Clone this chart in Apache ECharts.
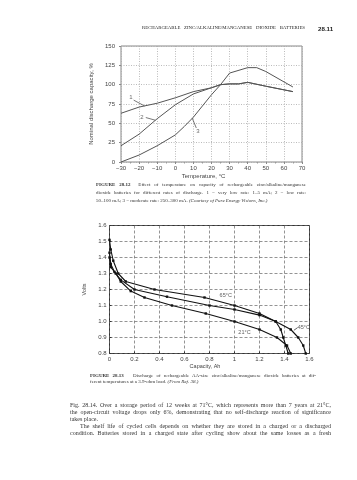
<!DOCTYPE html>
<html><head><meta charset="utf-8">
<script src="https://cdn.jsdelivr.net/npm/echarts@6/dist/echarts.min.js"></script>
<style>
html,body{margin:0;padding:0;background:#fff;width:357px;height:480px;overflow:hidden;}
#chart{position:absolute;left:0;top:0;width:357px;height:480px;}
.t{position:absolute;font-family:"Liberation Serif","DejaVu Serif",serif;color:#333;}
.j{text-align:justify;text-align-last:justify;}
.b{font-weight:bold;}
</style></head><body>
<div id="chart"></div>
<div class="t j" style="left:142px;top:25px;width:163px;font-size:4.8px;line-height:6px;color:#222;">RECHARGEABLE ZINC/ALKALINE/MANGANESE DIOXIDE BATTERIES</div>
<div class="t b" style="left:318px;top:24.5px;font-size:6.2px;line-height:7px;font-family:'Liberation Sans',sans-serif;color:#222;">28.11</div>

<div class="t j" style="left:96px;top:182px;width:210px;font-size:5px;line-height:6px;"><b>FIGURE 28.12</b>&nbsp; Effect of temperature on capacity of rechargeable zinc/alkaline/manganese</div>
<div class="t j" style="left:96px;top:190px;width:210px;font-size:5px;line-height:6px;">dioxide batteries for different rates of discharge. 1 = very low rate: 1–5 mA; 2 = low rate:</div>
<div class="t" style="left:96px;top:198px;width:210px;font-size:5px;line-height:6px;">50–100 mA; 3 = moderate rate: 250–300 mA. <i>(Courtesy of Pure Energy Visions, Inc.)</i></div>

<div class="t j" style="left:90px;top:373px;width:226px;font-size:5px;line-height:6px;"><b>FIGURE 28.13</b>&nbsp;&nbsp; Discharge of rechargeable AA-size zinc/alkaline/manganese dioxide batteries at dif-</div>
<div class="t" style="left:90px;top:379px;width:226px;font-size:5px;line-height:6px;">ferent temperatures at a 3.9-ohm load. <i>(From Ref. 38.)</i></div>

<div class="t j" style="left:70px;top:401.5px;width:261px;font-size:6px;line-height:7px;">Fig. 28.14. Over a storage period of 12 weeks at 71°C, which represents more than 7 years at 21°C,</div>
<div class="t j" style="left:70px;top:408.5px;width:261px;font-size:6px;line-height:7px;">the open-circuit voltage drops only 6%, demonstrating that no self-discharge reaction of significance</div>
<div class="t" style="left:70px;top:415.5px;width:261px;font-size:6px;line-height:7px;">takes place.</div>
<div class="t j" style="left:80px;top:422.5px;width:251px;font-size:6px;line-height:7px;">The shelf life of cycled cells depends on whether they are stored in a charged or a discharged</div>
<div class="t j" style="left:70px;top:429.5px;width:261px;font-size:6px;line-height:7px;">condition. Batteries stored in a charged state after cycling show about the same losses as a fresh</div>
<script>
// ---- Figure 28.12: capacity vs temperature ----
const rate1Temp = [-30, -20, -10, 0, 10, 20, 25, 30, 35, 40, 50, 65];
const rate1Cap  = [63, 71, 76, 83, 91, 96, 100, 101, 101, 103, 98, 91];
const rate2Temp = [-30, -20, -10, 0, 10, 20, 25, 30, 35, 40, 50, 65];
const rate2Cap  = [21, 36, 56, 74, 88, 96, 100, 101, 101, 103, 98, 91];
const rate3Temp = [-30, -20, -10, 0, 5, 10, 20, 25, 30, 40, 45, 50, 65];
const rate3Cap  = [0, 9, 21, 35, 46, 58, 87, 100, 115, 122, 122, 117, 97];
const rateLabels = ['1', '2', '3'];
const rateLabelAt = [[-24.5, 83], [-18.5, 58], [12.5, 40]];
const rateLeaders = [
  [[-23, 80], [-17, 72.5]],
  [[-16.3, 57.5], [-11, 54]],
  [[11.6, 44], [9.3, 57]]
];

// ---- Figure 28.13: discharge curves ----
const t65Cap  = [0, 0.01, 0.03, 0.07, 0.13, 0.36, 0.76, 1.0, 1.2, 1.33, 1.37, 1.39, 1.41, 1.43];
const t65Volt = [1.51, 1.45, 1.38, 1.30, 1.25, 1.20, 1.15, 1.10, 1.05, 1.00, 0.95, 0.90, 0.85, 0.80];
const t45Cap  = [0, 0.01, 0.04, 0.09, 0.2, 0.46, 0.8, 1.0, 1.2, 1.33, 1.45, 1.51, 1.55, 1.57];
const t45Volt = [1.43, 1.36, 1.31, 1.26, 1.20, 1.155, 1.10, 1.075, 1.04, 1.00, 0.95, 0.90, 0.85, 0.80];
const t21Cap  = [0, 0.01, 0.05, 0.09, 0.17, 0.28, 0.5, 0.77, 1.0, 1.2, 1.34, 1.42, 1.45];
const t21Volt = [1.40, 1.34, 1.30, 1.25, 1.19, 1.15, 1.10, 1.05, 1.00, 0.95, 0.90, 0.85, 0.80];
const tempLabels = ['65°C', '45°C', '21°C'];
const tempLabelAt = [[0.93, 1.16], [1.555, 0.96], [1.08, 0.93]];
const tempLeader = [[1.505, 0.962], [1.475, 0.945]];

const zip = (a, b) => a.map((v, i) => [v, b[i]]);
const minus = v => String(v).replace('-', '\u2212');

const sans = '"Liberation Sans", Arial, sans-serif';
const tickFont = {fontFamily: sans, fontSize: 6, color: '#444'};

const chart = echarts.init(document.getElementById('chart'), null, {renderer: 'canvas'});

const line1 = (data) => ({
  type: 'line', xAxisIndex: 0, yAxisIndex: 0, data, showSymbol: false, symbol: 'none',
  lineStyle: {color: '#555', width: 1}, silent: true, animation: false, z: 3
});
const line2 = (data) => ({
  type: 'line', xAxisIndex: 1, yAxisIndex: 1, data, symbol: 'rect', symbolSize: 2.4,
  itemStyle: {color: '#111'}, lineStyle: {color: '#111', width: 1.1}, silent: true, animation: false, z: 3
});

const series = [
  line1(zip(rate1Temp, rate1Cap)),
  line1(zip(rate2Temp, rate2Cap)),
  line1(zip(rate3Temp, rate3Cap)),
  ...rateLeaders.map(seg => ({
    type: 'line', xAxisIndex: 0, yAxisIndex: 0, data: seg, symbol: 'none',
    lineStyle: {color: '#555', width: 0.8}, animation: false, silent: true
  })),
  {
    type: 'scatter', xAxisIndex: 0, yAxisIndex: 0, symbolSize: 0, animation: false, silent: true,
    data: rateLabelAt.map((p, i) => ({value: p, label: {show: true, formatter: rateLabels[i],
      position: 'inside', fontFamily: sans, fontSize: 6, color: '#444'}}))
  },
  line2(zip(t65Cap, t65Volt)),
  line2(zip(t45Cap, t45Volt)),
  line2(zip(t21Cap, t21Volt)),
  {
    type: 'line', xAxisIndex: 1, yAxisIndex: 1, data: tempLeader, symbol: 'none',
    lineStyle: {color: '#222', width: 0.7}, animation: false, silent: true
  },
  {
    type: 'scatter', xAxisIndex: 1, yAxisIndex: 1, symbolSize: 0, animation: false, silent: true,
    data: tempLabelAt.map((p, i) => ({value: p, label: {show: true, formatter: tempLabels[i],
      position: 'inside', fontFamily: sans, fontSize: 5.5, color: '#333'}}))
  }
];

chart.setOption({
  animation: false,
  backgroundColor: 'transparent',
  grid: [
    {left: 121, top: 46, width: 181, height: 116, show: true, borderColor: '#888', borderWidth: 1, backgroundColor: 'transparent'},
    {left: 109.5, top: 225.5, width: 200, height: 128, show: true, borderColor: '#333', borderWidth: 1, backgroundColor: 'transparent'}
  ],
  xAxis: [
    {
      type: 'value', gridIndex: 0, min: -30, max: 70, interval: 10,
      name: 'Temperature, °C', nameLocation: 'middle', nameGap: 11,
      nameTextStyle: {fontFamily: sans, fontSize: 6, color: '#444', padding: [0, 16, 0, 0]},
      axisLine: {show: false, onZero: false},
      axisTick: {show: true, inside: false, length: 2, lineStyle: {color: '#888'}},
      minorTick: {show: true, splitNumber: 2, length: 1.5, lineStyle: {color: '#999'}},
      axisLabel: {...tickFont, margin: 3, formatter: minus},
      splitLine: {show: true, lineStyle: {color: '#aaa', type: [1, 1.5], width: 0.8}}
    },
    {
      type: 'value', gridIndex: 1, min: 0, max: 1.6, interval: 0.2,
      name: 'Capacity, Ah', nameLocation: 'middle', nameGap: 10,
      nameTextStyle: {fontFamily: sans, fontSize: 5.5, color: '#444', padding: [0, 9, 0, 0]},
      axisLine: {show: false, onZero: false},
      axisTick: {show: true, inside: true, length: 2, lineStyle: {color: '#333'}},
      axisLabel: {...tickFont, margin: 2.5, formatter: v => (Math.round(v * 10) / 10).toString()},
      splitLine: {show: true, lineStyle: {color: '#666', type: [3, 2], width: 0.7}}
    }
  ],
  yAxis: [
    {
      type: 'value', gridIndex: 0, min: 0, max: 150, interval: 25,
      name: 'Nominal discharge capacity, %', nameLocation: 'middle', nameGap: 16,
      nameTextStyle: {fontFamily: sans, fontSize: 6, color: '#444'},
      axisLine: {show: false, onZero: false},
      axisTick: {show: true, length: 2, lineStyle: {color: '#888'}},
      axisLabel: {...tickFont, margin: 6},
      splitLine: {show: true, lineStyle: {color: '#aaa', type: [1, 1.5], width: 0.8}}
    },
    {
      type: 'value', gridIndex: 1, min: 0.8, max: 1.6, interval: 0.1,
      name: 'Volts', nameLocation: 'middle', nameGap: 12,
      nameTextStyle: {fontFamily: sans, fontSize: 5.5, color: '#444'},
      axisLine: {show: false, onZero: false},
      axisTick: {show: true, inside: true, length: 2, lineStyle: {color: '#333'}},
      axisLabel: {...tickFont, margin: 3, formatter: v => v.toFixed(1)},
      splitLine: {show: true, lineStyle: {color: '#666', type: [3, 2], width: 0.7}}
    }
  ],
  series
});
</script>
</body></html>
